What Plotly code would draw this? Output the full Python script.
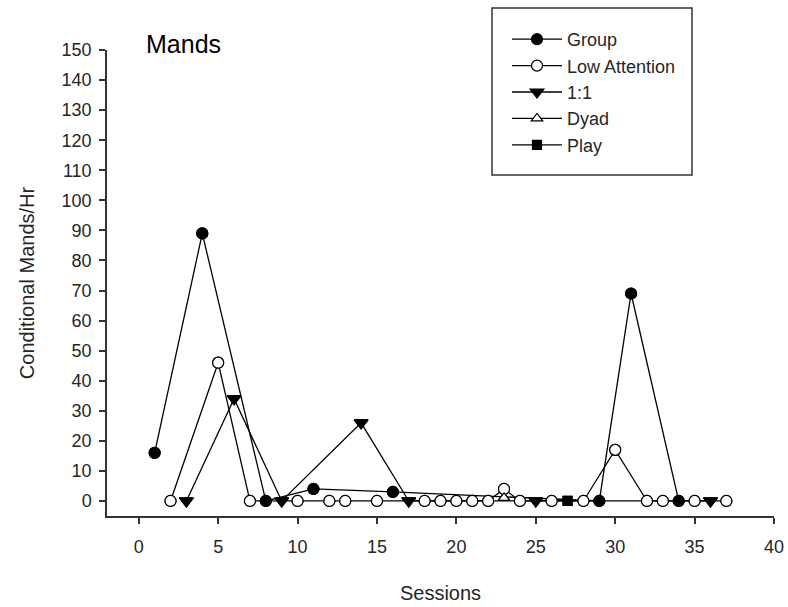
import plotly.graph_objects as go

# Conditional mands per hour by session, one series per condition
group_sessions = [1, 4, 8, 11, 16, 29, 31, 34]
group_values = [16, 89, 0, 4, 3, 0, 69, 0]

low_att_sessions = [2, 5, 7, 10, 12, 13, 15, 18, 19, 20, 21, 22, 23, 24, 26, 28, 30, 32, 33, 35, 37]
low_att_values = [0, 46, 0, 0, 0, 0, 0, 0, 0, 0, 0, 0, 4, 0, 0, 0, 17, 0, 0, 0, 0]

one_one_sessions = [3, 6, 9, 14, 17, 25, 36]
one_one_values = [0, 34, 0, 26, 0, 0, 0]

dyad_sessions = [23]
dyad_values = [1]

play_sessions = [27]
play_values = [0]

series = [
    ("Group", group_sessions, group_values, "circle", "black", 11),
    ("Low Attention", low_att_sessions, low_att_values, "circle", "white", 11),
    ("1:1", one_one_sessions, one_one_values, "triangle-down", "black", 12),
    ("Dyad", dyad_sessions, dyad_values, "triangle-up", "white", 10),
    ("Play", play_sessions, play_values, "square", "black", 9),
]

FONT = "Liberation Sans, Arial, sans-serif"
TXT = "#262626"

fig = go.Figure()

# connecting lines (and legend entries) first
for name, xs, ys, sym, fill, size in series:
    fig.add_trace(go.Scatter(
        x=xs, y=ys, name=name, mode="lines+markers",
        line=dict(color="black", width=1.3),
        marker=dict(symbol=sym, size=size, color=fill,
                    line=dict(color="black", width=1.2)),
        cliponaxis=False,
    ))

# markers on top of every line
for name, xs, ys, sym, fill, size in series:
    fig.add_trace(go.Scatter(
        x=xs, y=ys, mode="markers", showlegend=False, hoverinfo="skip",
        marker=dict(symbol=sym, size=size, color=fill,
                    line=dict(color="black", width=1.2)),
        cliponaxis=False,
    ))

W, H = 788, 607
L, R, T, B = 107, 14, 50, 91
pw, ph = W - L - R, H - T - B


def px_x(p):
    return (p - L) / pw


def px_y(p):
    return (H - B - p) / ph


axis_common = dict(
    showgrid=False, zeroline=False, showline=True, linecolor="#333333",
    linewidth=1.5, ticks="outside", ticklen=6, tickwidth=1.5, automargin=False,
    tickcolor="#333333", tickfont=dict(family=FONT, size=18, color=TXT),
)

fig.update_layout(
    width=W, height=H,
    margin=dict(l=L, r=R, t=T, b=B, autoexpand=False),
    paper_bgcolor="white", plot_bgcolor="white",
    font=dict(family=FONT, color=TXT),
    xaxis=dict(range=[-2, 40], dtick=5, tick0=0,
               title=dict(text="Sessions", font=dict(family=FONT, size=20, color=TXT), standoff=30),
               ticklabelstandoff=8, **axis_common),
    yaxis=dict(range=[-5, 150], dtick=10, tick0=0,
               title=dict(text="Conditional Mands/Hr", font=dict(family=FONT, size=20, color=TXT), standoff=22),
               ticklabelstandoff=4, **axis_common),
    showlegend=True,
    legend=dict(x=px_x(507), y=px_y(21), xanchor="left", yanchor="top",
                bgcolor="rgba(0,0,0,0)", borderwidth=0, itemwidth=50,
                font=dict(family=FONT, size=18, color=TXT),
                tracegroupgap=0),
    shapes=[dict(type="rect", xref="paper", yref="paper",
                 x0=px_x(492), x1=px_x(692), y0=px_y(175), y1=px_y(8),
                 line=dict(color="#333333", width=1.5))],
    annotations=[dict(text="Mands", xref="paper", yref="paper", x=px_x(144), y=px_y(44),
                      xanchor="left", yanchor="middle", showarrow=False,
                      font=dict(family=FONT, size=25, color="black"))],
)

fig.write_html("out.html")
